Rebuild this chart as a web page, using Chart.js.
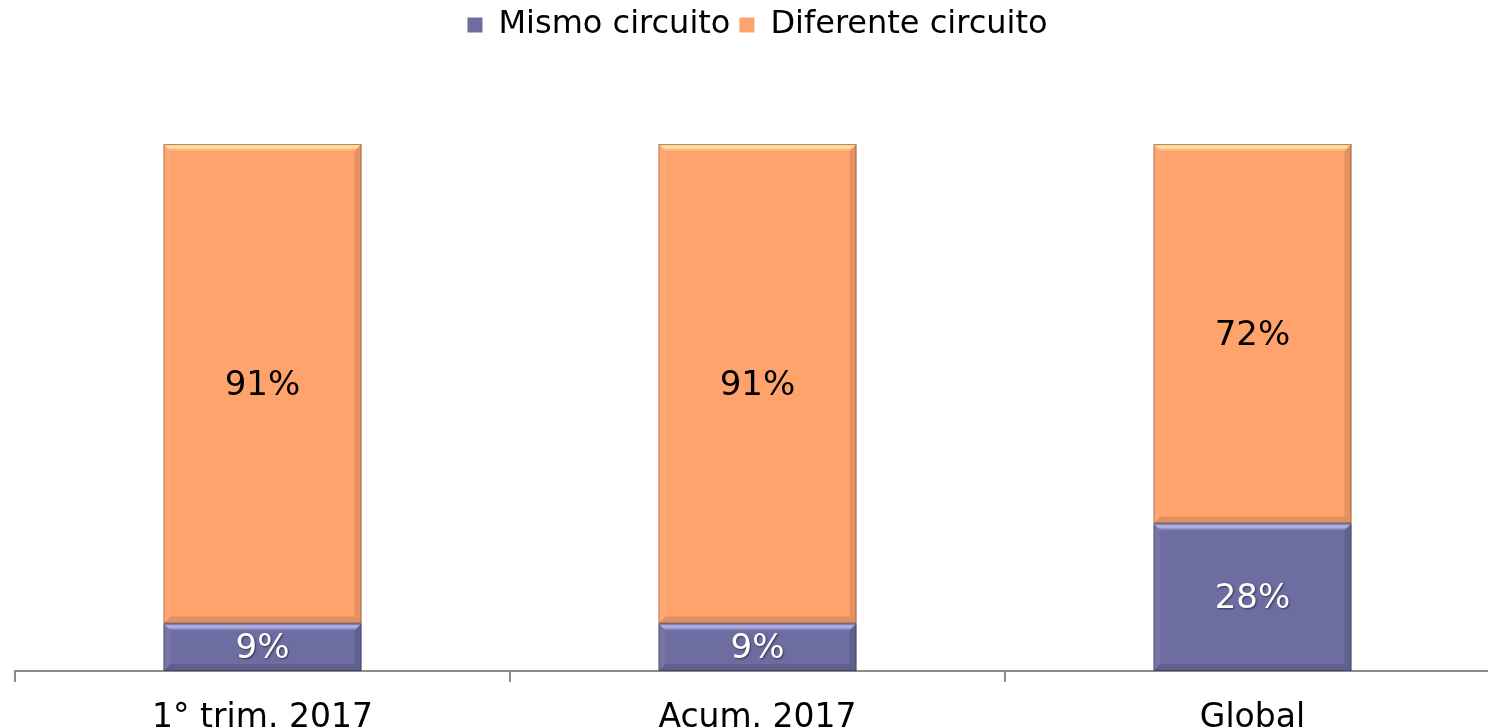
<!DOCTYPE html>
<html>
<head>
<meta charset="utf-8">
<script src="https://cdn.jsdelivr.net/npm/chart.js@4"></script>
<style>
  html, body { margin: 0; padding: 0; background: #fff; overflow: hidden; }
  #caja { width: 1500px; height: 728px; }
</style>
</head>
<body>
<div id="caja"><canvas id="grafico_circuito"></canvas></div>
<script>
// categorías y porcentajes por circuito
const categorias = ['1° trim. 2017', 'Acum. 2017', 'Global'];
const mismo_circuito = [9, 9, 28];
const diferente_circuito = [91, 91, 72];

const color_mismo = 'rgb(109, 109, 161)';
const color_diferente = 'rgb(255, 163, 108)';

// deja espacio libre entre la leyenda y las barras
const espacioLeyenda = {
    id: 'espacioLeyenda',
    beforeInit(chart) {
        const fitOriginal = chart.legend.fit;
        chart.legend.fit = function () {
            fitOriginal.bind(chart.legend)();
            this.height += 93;
        };
    }
};

// dibuja el biselado de cada barra (bordes claros arriba, oscuros abajo/derecha)
const biselado = {
    id: 'biselado',
    afterDatasetsDraw(chart) {
        const ctx = chart.ctx;
        chart.data.datasets.forEach((ds, i) => {
            const meta = chart.getDatasetMeta(i);
            meta.data.forEach(bar => {
                const p = bar.getProps(['x', 'y', 'base', 'width'], true);
                const x0 = p.x - p.width / 2, x1 = p.x + p.width / 2;
                const y0 = Math.min(p.y, p.base), y1 = Math.max(p.y, p.base);
                const b = 7;
                ctx.save();
                // arriba
                const g = ctx.createLinearGradient(0, y0, 0, y0 + b);
                if (i === 1) {
                    g.addColorStop(0, 'rgba(255,200,140,0.9)');
                    g.addColorStop(0.5, 'rgba(255,240,180,0.8)');
                    g.addColorStop(1, 'rgba(255,200,140,0.2)');
                } else {
                    g.addColorStop(0, 'rgba(150,150,210,0.9)');
                    g.addColorStop(0.5, 'rgba(200,200,255,0.8)');
                    g.addColorStop(1, 'rgba(160,160,220,0.2)');
                }
                ctx.fillStyle = g;
                ctx.beginPath();
                ctx.moveTo(x0, y0); ctx.lineTo(x1, y0); ctx.lineTo(x1 - b, y0 + b); ctx.lineTo(x0 + b, y0 + b);
                ctx.closePath(); ctx.fill();
                // izquierda
                ctx.fillStyle = 'rgba(255,255,255,0.06)';
                ctx.beginPath();
                ctx.moveTo(x0, y0); ctx.lineTo(x0 + b, y0 + b); ctx.lineTo(x0 + b, y1 - b); ctx.lineTo(x0, y1);
                ctx.closePath(); ctx.fill();
                // derecha
                ctx.fillStyle = 'rgba(0,0,0,0.10)';
                ctx.beginPath();
                ctx.moveTo(x1, y0); ctx.lineTo(x1 - b, y0 + b); ctx.lineTo(x1 - b, y1 - b); ctx.lineTo(x1, y1);
                ctx.closePath(); ctx.fill();
                // abajo
                ctx.fillStyle = 'rgba(0,0,0,0.12)';
                ctx.beginPath();
                ctx.moveTo(x0, y1); ctx.lineTo(x1, y1); ctx.lineTo(x1 - b, y1 - b); ctx.lineTo(x0 + b, y1 - b);
                ctx.closePath(); ctx.fill();
                // contorno fino
                ctx.strokeStyle = 'rgba(0,0,0,0.3)';
                ctx.lineWidth = 1;
                ctx.strokeRect(x0 + 0.5, y0 + 0.5, p.width - 1, y1 - y0 - 1);
                ctx.restore();
            });
        });
    }
};

// etiquetas de porcentaje en el centro de cada segmento
const etiquetas = {
    id: 'etiquetas',
    afterDatasetsDraw(chart) {
        const ctx = chart.ctx;
        ctx.save();
        ctx.font = '34px "DejaVu Sans"';
        ctx.textAlign = 'center';
        ctx.textBaseline = 'middle';
        chart.data.datasets.forEach((ds, i) => {
            const meta = chart.getDatasetMeta(i);
            meta.data.forEach((bar, j) => {
                const p = bar.getProps(['x', 'y', 'base'], true);
                const cy = (p.y + p.base) / 2 + 2;
                if (i === 0) {
                    ctx.shadowColor = 'rgba(0,0,0,0.5)';
                    ctx.shadowOffsetX = 1;
                    ctx.shadowOffsetY = 1;
                    ctx.shadowBlur = 2;
                    ctx.fillStyle = '#ffffff';
                } else {
                    ctx.shadowColor = 'transparent';
                    ctx.fillStyle = '#000000';
                }
                ctx.fillText(ds.data[j] + '%', p.x, cy);
            });
        });
        ctx.restore();
    }
};

const data_circuito = {
    labels: categorias,
    datasets: [{
        label: 'Mismo circuito',
        data: mismo_circuito,
        backgroundColor: color_mismo,
        borderWidth: 0
    }, {
        label: 'Diferente circuito',
        data: diferente_circuito,
        backgroundColor: color_diferente,
        borderWidth: 0
    }]
};

const config_circuito = {
    type: 'bar',
    data: data_circuito,
    plugins: [espacioLeyenda, biselado, etiquetas],
    options: {
        responsive: true,
        maintainAspectRatio: false,
        animation: false,
        categoryPercentage: 1,
        barPercentage: 0.4,
        layout: { padding: { left: 15, right: 0, top: 0, bottom: 0 } },
        plugins: {
            legend: {
                position: 'top',
                labels: {
                    font: { family: 'DejaVu Sans', size: 32 },
                    color: '#000',
                    boxWidth: 15,
                    boxHeight: 15,
                    padding: 9
                }
            },
            tooltip: { enabled: false }
        },
        scales: {
            x: {
                stacked: true,
                // las etiquetas del eje quedan cortadas por el borde inferior
                afterFit(scale) {
                    scale.height -= 27;
                },
                grid: {
                    offset: true,
                    drawOnChartArea: false,
                    tickLength: 11,
                    color: '#8c8c8c',
                    lineWidth: 2
                },
                border: { color: '#8c8c8c', width: 2 },
                ticks: {
                    font: { family: 'DejaVu Sans', size: 33, lineHeight: 1 },
                    color: '#000',
                    padding: 20
                }
            },
            y: {
                stacked: true,
                display: false,
                min: 0,
                max: 100
            }
        }
    }
};

const grafico_circuito = new Chart(
    document.getElementById('grafico_circuito'),
    config_circuito
);
</script>
</body>
</html>
